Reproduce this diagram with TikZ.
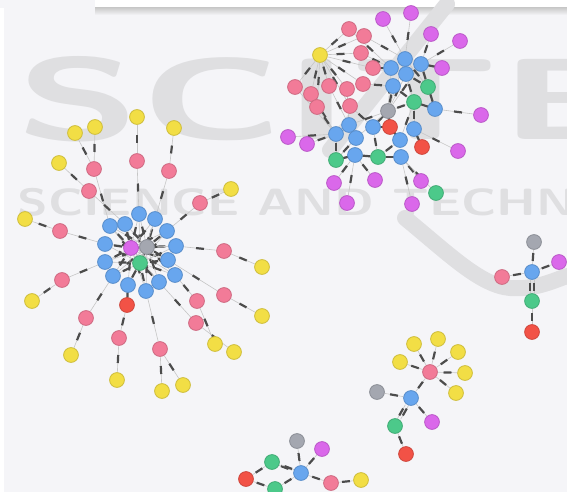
\documentclass[tikz,border=0pt]{standalone}
\usepackage{tikz}

\definecolor{canvasbg}{HTML}{F5F5F8}
\definecolor{wmark}{HTML}{DFDFE1}
\definecolor{nyellow}{HTML}{F2DE45}
\definecolor{npink}{HTML}{F27B98}
\definecolor{nblue}{HTML}{68A6EE}
\definecolor{ngray}{HTML}{A4A7B0}
\definecolor{nmagenta}{HTML}{DA68EA}
\definecolor{ngreen}{HTML}{4CC98A}
\definecolor{nred}{HTML}{F25246}

\pgfdeclarelayer{canvas}
\pgfdeclarelayer{links}
\pgfsetlayers{canvas,links,main}

\tikzset{
  ent/.style={circle, minimum size=7.4pt, inner sep=0pt, line width=0.4pt},
  yel/.style={ent, fill=nyellow, draw=nyellow!85!black},
  pnk/.style={ent, fill=npink, draw=npink!85!black},
  blu/.style={ent, fill=nblue, draw=nblue!85!black},
  gry/.style={ent, fill=ngray, draw=ngray!85!black},
  mag/.style={ent, fill=nmagenta, draw=nmagenta!85!black},
  grn/.style={ent, fill=ngreen, draw=ngreen!85!black},
  rd/.style={ent, fill=nred, draw=nred!85!black},
  link/.style={draw=gray!45, line width=0.3pt},
  tag/.style={sloped, pos=.5, fill=black!70, minimum width=4pt, minimum height=1.1pt, inner sep=0pt},
}
% one relation: thin line with its dark label in the middle
\newcommand\lnk[2]{\draw[link] (#1) -- (#2) node[tag] {};}
\newcommand\dlnk[2]{%
  \draw[link, transform canvas={xshift=-0.9pt}] (#1) -- (#2) node[tag] {};
  \draw[link, transform canvas={xshift=0.9pt}] (#1) -- (#2) node[tag] {};}

\begin{document}
\begin{tikzpicture}[x=0.5pt, y=-0.5pt]
  \useasboundingbox (0,0) rectangle (567,492);

  \begin{pgfonlayer}{canvas}
    \fill[white] (0,0) rectangle (567,492);
    \fill[canvasbg] (4,8) rectangle (567,492);
    \fill[canvasbg] (0,0) rectangle (95,8);
    \shade[top color=gray!40, bottom color=canvasbg] (95,8) rectangle (567,15);
    % faint publisher mark behind the graph
    \begin{scope}
      \clip (4,15) rectangle (567,492);
      \node[anchor=base west, inner sep=0pt, text=wmark,
        font=\fontsize{58}{58}\selectfont\sffamily\bfseries] (big) at (16,140)
        {\scalebox{1.75}[1]{SCITE}};
      \node[anchor=base west, inner sep=0pt, text=wmark,
        font=\fontsize{19}{19}\selectfont\sffamily\bfseries] (small) at (17,215)
        {\scalebox{1.32}[1]{SCIENCE AND TECHNOLOGY}};
    \end{scope}
    \draw[wmark, line width=8pt, line cap=round] (447,4) -- (330,150);
    \draw[wmark, line width=8pt, line cap=round]
      (405,218) .. controls (450,255) and (480,285) .. (510,288)
      .. controls (535,290) and (555,280) .. (567,276);
  \end{pgfonlayer}

  % left cluster
  \foreach \n/\x/\y in {ly1/137/117, ly2/95/127, ly3/75/133, ly4/174/128,
      ly5/59/163, ly6/231/189, ly7/25/219, ly8/262/267, ly9/32/301,
      ly10/262/316, ly11/215/344, ly12/234/352, ly13/71/355, ly14/117/380,
      ly15/162/391, ly16/183/385}
    \node[yel] (\n) at (\x,\y) {};
  \foreach \n/\x/\y in {lp1/137/161, lp2/94/169, lp3/169/171, lp4/89/191,
      lp5/200/203, lp6/60/231, lp7/224/251, lp8/62/280, lp9/197/301,
      lp10/224/295, lp11/196/323, lp12/86/318, lp13/119/338, lp14/160/349}
    \node[pnk] (\n) at (\x,\y) {};
  \foreach \n/\x/\y in {lb1/139/214, lb2/125/224, lb3/155/219, lb4/110/226,
      lb5/167/231, lb6/105/244, lb7/176/246, lb8/105/262, lb9/168/260,
      lb10/113/276, lb11/175/275, lb12/128/285, lb13/159/282, lb14/146/291}
    \node[blu] (\n) at (\x,\y) {};
  \node[gry] (lc) at (147,247) {};
  \node[mag] (lm) at (131,248) {};
  \node[grn] (lg) at (140,263) {};
  \node[rd] (lr) at (127,305) {};

  % upper right cluster
  \foreach \n/\x/\y in {tm1/383/19, tm2/411/13, tm3/431/34, tm4/460/41,
      tm5/442/68, tm6/481/115, tm7/288/137, tm8/307/144, tm9/458/151,
      tm10/334/183, tm11/375/180, tm12/421/181, tm13/347/203, tm14/412/204}
    \node[mag] (\n) at (\x,\y) {};
  \node[yel] (ty) at (320,55) {};
  \foreach \n/\x/\y in {tp1/349/29, tp2/364/36, tp3/361/53, tp4/373/68,
      tp5/363/84, tp6/347/89, tp7/329/86, tp8/311/94, tp9/295/87,
      tp10/317/107, tp11/350/106}
    \node[pnk] (\n) at (\x,\y) {};
  \foreach \n/\x/\y in {tb1/405/59, tb2/421/64, tb3/406/74, tb4/391/68,
      tb5/393/86, tb6/435/109, tb7/349/125, tb8/373/127, tb9/336/134,
      tb10/414/129, tb11/356/138, tb12/400/140, tb13/355/155, tb14/401/157}
    \node[blu] (\n) at (\x,\y) {};
  \foreach \n/\x/\y in {tg1/428/87, tg2/414/102, tg3/378/157, tg4/336/160,
      tg5/436/193}
    \node[grn] (\n) at (\x,\y) {};
  \node[gry] (tc) at (388,111) {};
  \node[rd] (tr1) at (390,127) {};
  \node[rd] (tr2) at (422,147) {};

  % lower right cluster
  \foreach \n/\x/\y in {by1/414/344, by2/438/339, by3/458/352, by4/400/362,
      by5/465/373, by6/456/393}
    \node[yel] (\n) at (\x,\y) {};
  \node[pnk] (bp) at (430,372) {};
  \node[blu] (bb) at (411,398) {};
  \node[gry] (bc) at (377,392) {};
  \node[mag] (bm) at (432,422) {};
  \node[grn] (bg) at (395,426) {};
  \node[rd] (br) at (406,454) {};

  % bottom cluster
  \node[gry] (dc) at (297,441) {};
  \node[mag] (dm) at (322,449) {};
  \node[grn] (dg1) at (272,462) {};
  \node[rd] (dr) at (246,479) {};
  \node[blu] (db) at (301,473) {};
  \node[pnk] (dp) at (331,483) {};
  \node[yel] (dy) at (361,480) {};
  \node[grn] (dg2) at (275,489) {};

  % right cluster
  \node[gry] (rc) at (534,242) {};
  \node[mag] (rm) at (559,262) {};
  \node[blu] (rb) at (532,272) {};
  \node[pnk] (rp) at (502,277) {};
  \node[grn] (rg) at (532,301) {};
  \node[rd] (rr) at (532,332) {};

  \begin{pgfonlayer}{links}
    \foreach \a/\b in {ly1/lp1, ly2/lp2, ly3/lp2, ly4/lp3, ly5/lp4, ly6/lp5,
        ly7/lp6, ly8/lp7, ly9/lp8, ly10/lp10, ly11/lp9, ly12/lp11, ly13/lp12,
        ly14/lp13, ly15/lp14, ly16/lp14,
        lp1/lb1, lp2/lb4, lp3/lb3, lp4/lb2, lp5/lb5, lp6/lb6, lp7/lb7,
        lp8/lb8, lp9/lb11, lp10/lb9, lp11/lb13, lp12/lb10, lp13/lr,
        lp14/lb14, lr/lb12, lm/lc, lg/lc}
      {\lnk{\a}{\b}}
    \foreach \i in {1,...,14} {
      \lnk{lb\i}{lc} \lnk{lb\i}{lg} \lnk{lb\i}{lm}
    }
    \foreach \i in {1,...,11} {\lnk{ty}{tp\i}}
    \foreach \a/\b in {tp1/tb4, tp2/tb1, tp3/tb4, tp4/tb4, tp5/tb5, tp6/tb7,
        tp7/tb7, tp8/tb9, tp9/tb9, tp10/tb9, tp11/tb8,
        tm1/tb1, tm2/tb1, tm3/tb2, tm4/tb2, tm5/tb2, tm6/tb6, tm7/tb9,
        tm8/tb9, tm9/tb10, tm10/tb13, tm11/tb13, tm12/tb14, tm13/tb13,
        tm14/tb14,
        tb1/tc, tb2/tc, tb3/tc, tb4/tc, tb5/tc, tb1/tg1, tb2/tg1, tb3/tg1,
        tb3/tg2, tb5/tg2, tb6/tg1, tb6/tg2, tb7/tc, tb8/tc, tb11/tc,
        tb10/tg2, tb12/tg2, tb13/tg3, tb14/tg3, tb8/tg3, tb9/tg4, tb11/tg4,
        tb13/tg4, tb14/tg5, tb12/tg3, tr1/tc, tr1/tb8, tr2/tb10, tc/tg2,
        tb12/tr1}
      {\lnk{\a}{\b}}
    \foreach \i in {1,...,6} {\lnk{bp}{by\i}}
    \foreach \a/\b in {bp/bb, bc/bb, bm/bb, bg/br,
        dc/db, dm/db, dr/dg1, dr/dg2, dg2/db, db/dp, dp/dy,
        rc/rb, rm/rb, rp/rb, rg/rr}
      {\lnk{\a}{\b}}
    \dlnk{bb}{bg}
    \dlnk{dg1}{db}
    \dlnk{rb}{rg}
  \end{pgfonlayer}
\end{tikzpicture}
\end{document}
